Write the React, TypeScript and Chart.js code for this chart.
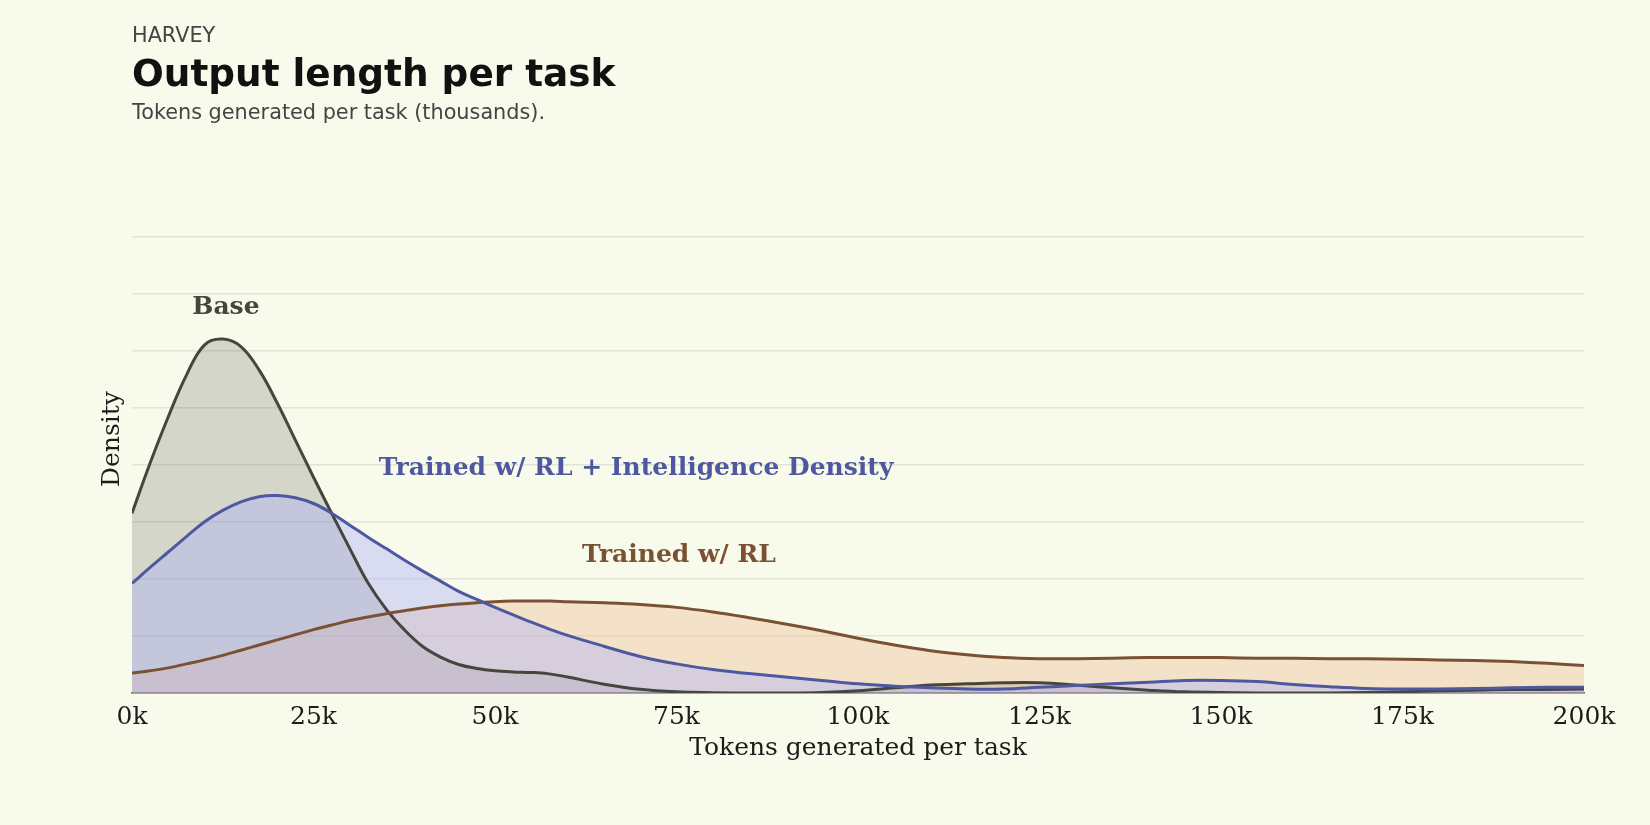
import { useEffect, useRef } from 'react';
import Chart from 'chart.js/auto';

// tokens generated per task, in thousands
const tokensK = [
  0, 2.5, 5, 7.5, 10, 12.5, 15, 17.5, 20, 22.5, 25, 27.5, 30, 32.5, 35, 37.5,
  40, 42.5, 45, 47.5, 50, 52.5, 55, 57.5, 60, 65, 70, 75, 80, 85, 90, 95, 100,
  105, 110, 115, 120, 125, 130, 135, 140, 145, 150, 155, 160, 165, 170, 175,
  180, 185, 190, 195, 200,
];

const baseDensity = [
  3.15, 4.03, 4.84, 5.57, 6.1, 6.2, 6.07, 5.66, 5.08, 4.43, 3.78, 3.15, 2.53,
  1.93, 1.47, 1.11, 0.82, 0.63, 0.5, 0.43, 0.39, 0.37, 0.36, 0.335, 0.28, 0.155,
  0.065, 0.02, 0.005, 0, 0, 0.01, 0.04, 0.09, 0.14, 0.16, 0.18, 0.18, 0.14,
  0.09, 0.05, 0.02, 0.01, 0, 0, 0, 0.01, 0.02, 0.04, 0.05, 0.06, 0.06, 0.07,
];

const rlDensity = [
  0.35, 0.39, 0.44, 0.51, 0.58, 0.66, 0.75, 0.84, 0.93, 1.02, 1.11, 1.19, 1.27,
  1.33, 1.39, 1.44, 1.49, 1.53, 1.56, 1.58, 1.6, 1.61, 1.61, 1.61, 1.6, 1.58,
  1.55, 1.5, 1.42, 1.32, 1.21, 1.09, 0.96, 0.84, 0.74, 0.67, 0.62, 0.6, 0.6,
  0.61, 0.62, 0.62, 0.62, 0.61, 0.61, 0.6, 0.6, 0.59, 0.58, 0.57, 0.55, 0.52,
  0.48,
];

const rlIdDensity = [
  1.92, 2.2, 2.47, 2.74, 3.0, 3.2, 3.35, 3.44, 3.46, 3.42, 3.32, 3.15, 2.94,
  2.73, 2.53, 2.33, 2.14, 1.96, 1.78, 1.64, 1.5, 1.37, 1.24, 1.12, 1.01, 0.82,
  0.64, 0.51, 0.41, 0.34, 0.28, 0.22, 0.16, 0.12, 0.09, 0.07, 0.07, 0.1, 0.13,
  0.16, 0.19, 0.22, 0.22, 0.2, 0.15, 0.11, 0.08, 0.07, 0.07, 0.08, 0.09, 0.1,
  0.1,
];

const xTickValues = [0, 25, 50, 75, 100, 125, 150, 175, 200];
const yGridValues = [0, 1, 2, 3, 4, 5, 6, 7, 8];

// inline labels: text, anchor in data units (left edge, baseline)
const labelTexts = ['Base', 'Trained w/ RL + Intelligence Density', 'Trained w/ RL'];
const labelXk = [8.3, 34.0, 62.0];
const labelY = [6.64, 3.82, 2.3];

const BG = '#f8fbeb';
const BASE_LINE = '#46463f';
const RL_LINE = '#7a5233';
const RLID_LINE = '#4e58a0';
const labelColors = [BASE_LINE, RLID_LINE, RL_LINE];
const SERIF = '"DejaVu Serif"';

const toPoints = (ys: number[]) => tokensK.map((x, i) => ({ x, y: ys[i] }));

const inlineLabels = {
  id: 'inlineLabels',
  afterDatasetsDraw(chart: Chart) {
    const { ctx, scales } = chart;
    ctx.save();
    ctx.font = `bold 25px ${SERIF}`;
    ctx.textAlign = 'left';
    ctx.textBaseline = 'alphabetic';
    labelTexts.forEach((t, i) => {
      ctx.fillStyle = labelColors[i];
      ctx.fillText(t, scales.x.getPixelForValue(labelXk[i]), scales.y.getPixelForValue(labelY[i]));
    });
    ctx.restore();
  },
};

const OutputLengthChart = () => {
  const chartRef = useRef<HTMLCanvasElement | null>(null);
  const chartInstance = useRef<Chart<'line'> | null>(null);

  useEffect(() => {
    if (!chartRef.current) return;
    const ctx = chartRef.current.getContext('2d');
    if (!ctx) return;

    if (chartInstance.current) chartInstance.current.destroy();

    chartInstance.current = new Chart(ctx, {
      type: 'line',
      data: {
        datasets: [
          {
            label: 'Trained w/ RL + Intelligence Density',
            data: toPoints(rlIdDensity),
            borderColor: RLID_LINE,
            backgroundColor: 'rgba(170,175,250,0.4)',
            fill: 'origin',
          },
          {
            label: 'Trained w/ RL',
            data: toPoints(rlDensity),
            borderColor: RL_LINE,
            backgroundColor: 'rgba(237,180,135,0.35)',
            fill: 'origin',
          },
          {
            label: 'Base',
            data: toPoints(baseDensity),
            borderColor: BASE_LINE,
            backgroundColor: 'rgba(69,70,63,0.2)',
            fill: 'origin',
          },
        ],
      },
      options: {
        animation: false,
        responsive: false,
        events: [],
        layout: { padding: { top: 185, left: 97, right: 66, bottom: 69 } },
        elements: {
          point: { radius: 0 },
          line: { borderWidth: 3, tension: 0.4 },
        },
        plugins: {
          legend: { display: false },
          tooltip: { enabled: false },
          filler: { drawTime: 'beforeDatasetsDraw' },
        },
        scales: {
          x: {
            type: 'linear',
            min: 0,
            max: 200,
            afterBuildTicks: (axis) => {
              axis.ticks = xTickValues.map((value) => ({ value }));
            },
            grid: { display: false, drawTicks: false },
            border: { display: true, color: '#5f5f5f', width: 1.6 },
            ticks: {
              padding: 9,
              color: '#1c1c1c',
              font: { family: SERIF, size: 25 },
              callback: (v) => `${v}k`,
            },
            title: {
              display: true,
              text: 'Tokens generated per task',
              color: '#1c1c1c',
              font: { family: SERIF, size: 25, lineHeight: 0.6 },
              padding: 0,
            },
          },
          y: {
            min: 0,
            max: 8.9,
            afterBuildTicks: (axis) => {
              axis.ticks = yGridValues.map((value) => ({ value }));
            },
            ticks: { display: false },
            grid: { color: '#e2e5d4', lineWidth: 1.5, drawTicks: false },
            border: { display: false },
            title: {
              display: true,
              text: 'Density',
              color: '#1c1c1c',
              font: { family: SERIF, size: 25 },
              padding: { top: 0, bottom: 5 },
            },
          },
        },
      },
      plugins: [inlineLabels],
    });

    return () => {
      if (chartInstance.current) {
        chartInstance.current.destroy();
        chartInstance.current = null;
      }
    };
  }, []);

  const sans = '"DejaVu Sans", sans-serif';

  return (
    <div
      style={{
        position: 'fixed',
        left: 0,
        top: 0,
        width: 1650,
        height: 825,
        background: BG,
        overflow: 'hidden',
      }}
    >
      <canvas
        ref={chartRef}
        width={1650}
        height={825}
        style={{ position: 'absolute', left: 0, top: 0, width: 1650, height: 825 }}
      />
      <div
        style={{
          position: 'absolute',
          left: 132,
          top: 25,
          fontFamily: sans,
          fontSize: 20.8,
          lineHeight: '20px',
          color: '#444444',
          whiteSpace: 'nowrap',
        }}
      >
        HARVEY
      </div>
      <div
        style={{
          position: 'absolute',
          left: 132,
          top: 55,
          fontFamily: sans,
          fontSize: 37.4,
          fontWeight: 'bold',
          lineHeight: '37px',
          color: '#111111',
          whiteSpace: 'nowrap',
        }}
      >
        Output length per task
      </div>
      <div
        style={{
          position: 'absolute',
          left: 132,
          top: 102,
          fontFamily: sans,
          fontSize: 20.8,
          lineHeight: '20px',
          color: '#444444',
          whiteSpace: 'nowrap',
        }}
      >
        Tokens generated per task (thousands).
      </div>
    </div>
  );
};

export default function App() {
  return <OutputLengthChart />;
}
